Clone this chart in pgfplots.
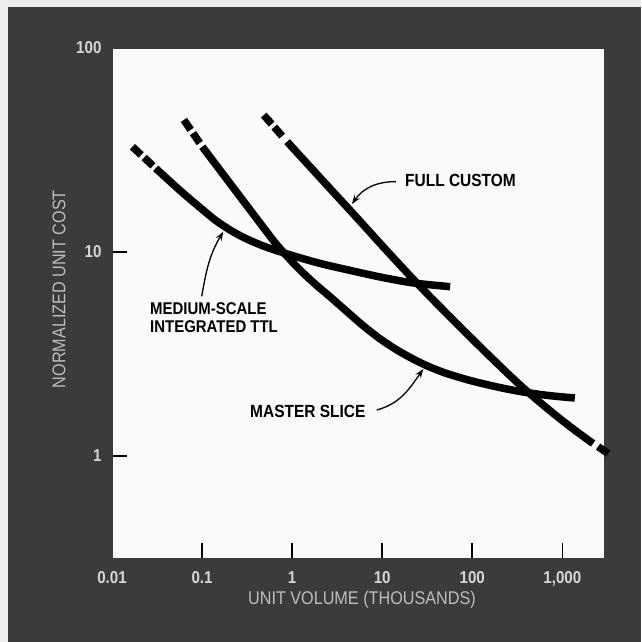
\documentclass[border=0pt]{standalone}
\usepackage{fontspec}
\setmainfont{Liberation Sans}[FakeStretch=0.88]
\usepackage{pgfplots}
\pgfplotsset{compat=1.18}
\usetikzlibrary{arrows.meta}
\definecolor{bgdark}{HTML}{3B3B3B}
\definecolor{bglight}{HTML}{EDEDED}
\definecolor{ticktext}{HTML}{D6D6D6}
\definecolor{labeltext}{HTML}{BDBDBD}
\definecolor{plotbg}{HTML}{FAFAFA}
\begin{document}
\begin{tikzpicture}[x=1pt,y=1pt]
\useasboundingbox (0,0) rectangle (641,642);
\fill[bglight] (0,0) rectangle (641,642);
\fill[bgdark] (8,0) rectangle (641,635);
\begin{axis}[
  at={(112pt,84pt)}, anchor=south west,
  scale only axis, width=492pt, height=510pt,
  xmode=log, ymode=log,
  xmin=0.01, xmax=2900, ymin=0.316, ymax=100,
  axis background/.style={fill=plotbg},
  axis line style={color=bgdark},
  tick pos=left, tick align=inside,
  major tick length=15pt,
  every tick/.style={black, line width=1.6pt},
  xminorticks=false, yminorticks=false,
  /pgf/number format/assume math mode=true,
  xtick={0.1,1,10,100,1000},
  xticklabels={0.1,1,10,100,{1,000}},
  ytick={1,10}, yticklabels={1,10},
  extra x ticks={0.01}, extra x tick labels={0.01},
  extra y ticks={100}, extra y tick labels={100},
  extra tick style={major tick length=0pt},
  ticklabel style={font=\fontsize{17.2}{19}\selectfont\bfseries, color=ticktext},
  xticklabel style={yshift=-10pt},
  yticklabel style={xshift=-7pt},
  xlabel={UNIT VOLUME (THOUSANDS)},
  ylabel={NORMALIZED UNIT COST},
  label style={font=\fontsize{18.4}{21}\selectfont, color=labeltext},
  xlabel style={at={(axis description cs:0.508,-0.0824)}, anchor=center},
  ylabel style={at={(axis description cs:-0.1077,0.527)}, anchor=center},
  clip=false,
]
% Medium-scale integrated TTL
\addplot[black, line width=7.5pt, line cap=butt, dash pattern=on 12pt off 4pt on 12pt off 60pt]
  coordinates {(0.01685,32.8) (0.03053,25.72)};
\addplot[black, line width=7.5pt, line cap=butt, smooth]
  coordinates {(0.03053,25.72) (0.05778,19.91) (0.09625,16.43) (0.1411,14.30) (0.2069,12.78)
    (0.3034,11.66) (0.5053,10.60) (0.9563,9.67) (2.056,8.78) (4.420,8.12) (9.502,7.54)
    (22.06,7.05) (56.7,6.76)};
% Master slice
\addplot[black, line width=7.5pt, line cap=butt, dash pattern=on 12pt off 4pt on 12pt off 60pt]
  coordinates {(0.0628,44.4) (0.1005,32.82)};
\addplot[black, line width=7.5pt, line cap=butt, smooth]
  coordinates {(0.1005,32.82) (0.1687,24.26) (0.2905,17.66) (0.4448,13.78) (0.6811,10.80)
    (1.1345,8.442) (1.720,7.087) (2.653,6.018) (4.096,5.081) (6.205,4.338) (9.502,3.746)
    (14.55,3.309) (20.43,3.040) (29.95,2.793) (49.9,2.552) (94.4,2.345) (178.7,2.191)
    (338.1,2.071) (690.7,1.980) (1375.6,1.924)};
% Full custom
\addplot[black, line width=7.5pt, line cap=butt, dash pattern=on 12pt off 4pt on 12pt off 60pt]
  coordinates {(0.484,46.9) (0.8791,34.73)};
\addplot[black, line width=7.5pt, line cap=butt, smooth]
  coordinates {(0.8791,34.73) (2.056,23.05) (5.021,15.01) (12.27,9.722) (26.37,6.775)
    (64.4,4.539) (157.3,3.074) (338.1,2.229) (640.0,1.748) (1211,1.395) (2194,1.151)};
\addplot[black, line width=7.5pt, line cap=butt]
  coordinates {(2493,1.111) (3217,1.029)};
% annotations
\draw[black, line width=1.3pt, -{Stealth[length=9pt,width=6.5pt]}]
  (rel axis cs:0.577,0.738) to[out=180,in=55] (rel axis cs:0.4878,0.6941);
\node[anchor=west, inner sep=0pt, font=\fontsize{17.6}{20}\selectfont\bfseries]
  at (rel axis cs:0.5955,0.7412) {FULL CUSTOM};
\draw[black, line width=1.3pt, -{Stealth[length=9pt,width=6.5pt]}]
  (rel axis cs:0.1823,0.5131) to[out=80,in=239] (rel axis cs:0.2262,0.6398);
\node[anchor=west, align=left, inner sep=0pt, font=\fontsize{17}{18}\selectfont\bfseries]
  at (rel axis cs:0.0772,0.4706) {MEDIUM-SCALE\\INTEGRATED TTL};
\draw[black, line width=1.3pt, -{Stealth[length=9pt,width=6.5pt]}]
  (rel axis cs:0.538,0.2902) to[out=15,in=235] (rel axis cs:0.6327,0.3706);
\node[anchor=west, inner sep=0pt, font=\fontsize{17.6}{20}\selectfont\bfseries]
  at (rel axis cs:0.2805,0.2882) {MASTER SLICE};
\end{axis}
\end{tikzpicture}
\end{document}
